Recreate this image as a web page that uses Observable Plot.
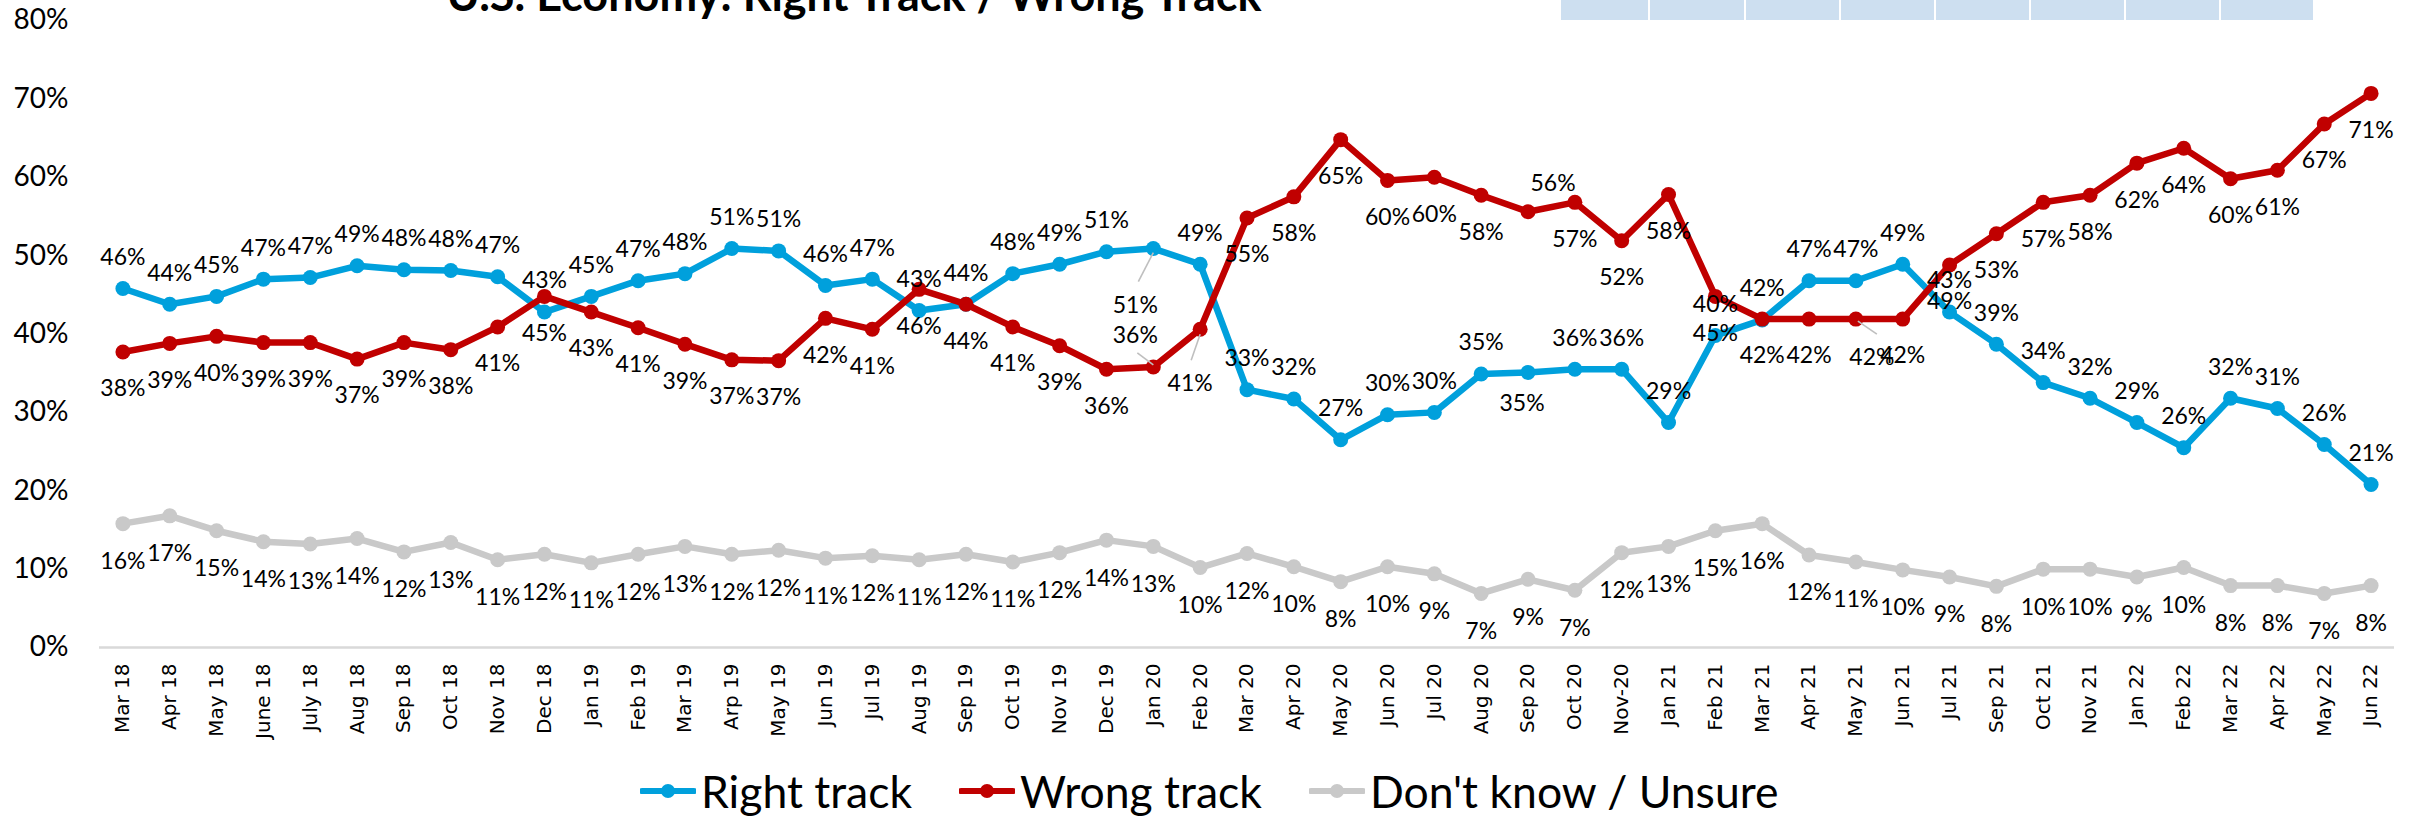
<!DOCTYPE html>
<html>
<head>
<meta charset="utf-8">
<script src="https://cdn.jsdelivr.net/npm/d3@7"></script>
<script src="https://cdn.jsdelivr.net/npm/@observablehq/plot@0.6"></script>
<style>
  html, body { margin: 0; padding: 0; background: #fff; }
  #wrap { position: relative; width: 2412px; height: 816px; overflow: hidden; background: #fff; }
  #chart { position: absolute; left: 0; top: 0; }
  #title { position: absolute; left: 0; top: 0; z-index: 3; }
  #boxes { position: absolute; left: 1561px; top: 0; display: flex; gap: 2px; z-index: 3; }
  #boxes div { height: 20px; background: #cddff0; }
  #legend { position: absolute; top: 765px; left: 640px; height: 52px; display: flex; align-items: center;
            font-family: Lato, sans-serif; font-size: 44.5px; line-height: 52px; color: #000; z-index: 3; white-space: nowrap; }
  #legend .item { display: flex; align-items: center; margin-right: 47px; }
  #legend svg { margin-right: 5px; }
</style>
</head>
<body>
<div id="wrap">
  <div id="chart"></div>
  <svg id="title" width="2412" height="30"><text x="854" y="11" text-anchor="middle" font-family="Lato" font-weight="bold" font-size="45" fill="#000">U.S. Economy: Right Track / Wrong Track</text></svg>
  <div id="boxes"></div>
  <div id="legend"></div>
</div>
<script>
// ---------- data ----------
const months = ["Mar 18","Apr 18","May 18","June 18","July 18","Aug 18","Sep 18","Oct 18","Nov 18","Dec 18",
  "Jan 19","Feb 19","Mar 19","Arp 19","May 19","Jun 19","Jul 19","Aug 19","Sep 19","Oct 19","Nov 19","Dec 19",
  "Jan 20","Feb 20","Mar 20","Apr 20","May 20","Jun 20","Jul 20","Aug 20","Sep 20","Oct 20","Nov-20",
  "Jan 21","Feb 21","Mar 21","Apr 21","May 21","Jun 21","Jul 21","Sep 21","Oct 21","Nov 21",
  "Jan 22","Feb 22","Mar 22","Apr 22","May 22","Jun 22"];

const rightTrack = [45.8,43.8,44.8,47.0,47.2,48.7,48.2,48.1,47.3,42.8,
  44.8,46.8,47.7,50.9,50.6,46.2,47.0,43.0,43.8,47.7,48.9,50.5,
  50.9,48.9,32.9,31.7,26.5,29.7,30.0,34.9,35.1,35.5,35.5,
  28.7,39.8,41.8,46.8,46.8,48.9,42.8,38.7,33.8,31.8,
  28.7,25.5,31.8,30.5,25.9,20.8];

const wrongTrack = [37.7,38.8,39.7,38.9,38.9,36.8,38.9,38.0,40.9,44.8,
  42.8,40.8,38.7,36.7,36.6,42.0,40.6,45.7,43.8,40.9,38.5,35.5,
  35.8,40.6,54.8,57.5,64.8,59.6,60.0,57.7,55.6,56.8,51.9,
  57.8,44.8,41.9,41.9,41.9,41.9,48.8,52.8,56.8,57.7,
  61.8,63.7,59.8,60.9,66.8,70.7];

const unsure = [15.8,16.8,14.9,13.5,13.2,13.9,12.2,13.4,11.2,11.9,
  10.8,11.9,12.9,11.9,12.4,11.4,11.7,11.2,11.9,10.9,12.1,13.7,
  12.9,10.2,12.0,10.3,8.4,10.3,9.4,6.9,8.7,7.3,12.1,
  12.9,14.9,15.8,11.8,10.9,9.9,9.0,7.8,10.0,10.0,
  9.0,10.2,7.9,7.9,6.9,7.9];

const yTicks = [0,10,20,30,40,50,60,70,80];
const seriesNames = ["Right track","Wrong track","Don't know / Unsure"];

// ---------- styling / layout ----------
const W = 2412, H = 816;
const margin = {top: 20, right: 18, bottom: 169, left: 99};
const yMax = 80;
const pxPerIdx = (W - margin.left - margin.right) / months.length;
const pxPerPct = (H - margin.top - margin.bottom) / yMax;

const seriesDefs = [
  {key: "right",  name: seriesNames[0], values: rightTrack, color: "#00a0dc", labelDy: -31},
  {key: "wrong",  name: seriesNames[1], values: wrongTrack, color: "#c00000", labelDy: 37},
  {key: "unsure", name: seriesNames[2], values: unsure,     color: "#c9c9c9", labelDy: 38}
];

// manual label placements (pixel offsets), as in the original
const labelNudges = {
  "right|Jan 20": {dx: -18, dy: 57, leader: [[0, 4], [-15, 33]]},
  "wrong|Jan 20": {dx: -18, dy: -31, leader: [[0, -2], [-16, -14]]},
  "wrong|Feb 20": {dx: -10, dy: 54, leader: [[0, 5], [-9, 31]]},
  "wrong|Sep 20": {dx: 25, dy: -28},
  "right|Sep 20": {dx: -6, dy: 31},
  "wrong|May 21": {dx: 16, dy: 39, leader: [[2, 2], [21, 15]]}
};

const labelStyle = {fontSize: 23, fontFamily: "Lato", fill: "#000"};

const marks = [
  Plot.ruleY([0], {stroke: "#d9d9d9", strokeWidth: 2.5}),
  Plot.axisY({ticks: yTicks, tickFormat: d => d + "%", tickSize: 0, tickPadding: 31,
    fontSize: 28, fontFamily: "Lato", fill: "#000", label: null}),
  Plot.axisX({ticks: d3.range(months.length), tickFormat: i => months[i], tickRotate: -90,
    textAnchor: "end", lineAnchor: "middle", tickSize: 0, tickPadding: 16,
    fontSize: 20, fontFamily: "DejaVu Sans", fill: "#000", label: null})
];

const drawOrder = [seriesDefs[2], seriesDefs[0], seriesDefs[1]];
for (const s of drawOrder) {
  const rows = s.values.map((v, i) => ({i, v}));
  marks.push(Plot.line(rows, {x: "i", y: "v", stroke: s.color, strokeWidth: 6.5,
    strokeLinejoin: "round", strokeLinecap: "round"}));
  marks.push(Plot.dot(rows, {x: "i", y: "v", r: 7.5, fill: s.color, stroke: "none"}));
}

for (const s of seriesDefs) {
  const rows = s.values.map((v, i) => ({i, v, label: Math.round(v) + "%", nudge: labelNudges[s.key + "|" + months[i]]}));
  marks.push(Plot.text(rows.filter(r => !r.nudge), {x: "i", y: "v", text: "label", dy: s.labelDy, ...labelStyle}));
  for (const r of rows.filter(r => r.nudge)) {
    const n = r.nudge;
    if (n.leader) {
      const [[ax, ay], [bx, by]] = n.leader;
      marks.push(Plot.link([r], {
        x1: d => d.i + ax / pxPerIdx, y1: d => d.v - ay / pxPerPct,
        x2: d => d.i + bx / pxPerIdx, y2: d => d.v - by / pxPerPct,
        stroke: "#bfbfbf", strokeWidth: 1.6
      }));
    }
    marks.push(Plot.text([r], {x: "i", y: "v", text: "label", dx: n.dx, dy: n.dy, ...labelStyle}));
  }
}

const chart = Plot.plot({
  width: W, height: H,
  marginTop: margin.top, marginRight: margin.right, marginBottom: margin.bottom, marginLeft: margin.left,
  x: {type: "linear", domain: [-0.5, months.length - 0.5]},
  y: {domain: [0, yMax]},
  style: {fontFamily: "Lato", fontSize: "23px", color: "#000", background: "transparent", overflow: "visible"},
  marks
});
document.getElementById("chart").appendChild(chart);

// header boxes (cut-off table at top right)
const boxWidths = [87, 94, 93, 93, 93, 93, 93, 92];
const boxes = document.getElementById("boxes");
for (const w of boxWidths) { const d = document.createElement("div"); d.style.width = w + "px"; boxes.appendChild(d); }

// legend
const legend = document.getElementById("legend");
for (const s of seriesDefs) {
  const item = document.createElement("div");
  item.className = "item";
  item.innerHTML = `<svg width="56" height="16"><line x1="2" x2="54" y1="8" y2="8" stroke="${s.color}" stroke-width="6" stroke-linecap="round"/><circle cx="28" cy="8" r="7" fill="${s.color}"/></svg><span>${s.name}</span>`;
  legend.appendChild(item);
}
</script>
</body>
</html>
